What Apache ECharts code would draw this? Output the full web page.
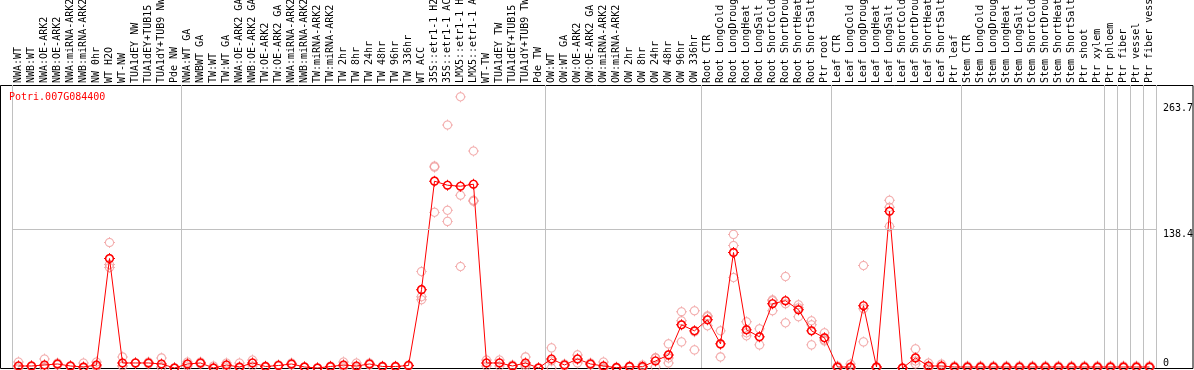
<!DOCTYPE html>
<html><head><meta charset="utf-8">
<script src="https://cdn.jsdelivr.net/npm/echarts@6/dist/echarts.min.js"></script>
<style>html,body{margin:0;padding:0;background:#fff}#c{width:1194px;height:370px}</style>
</head><body><div id="c"></div>
<script>
const geneName = 'Potri.007G084400';
const categories = [
 'NWA:WT','NWB:WT','NWA:OE-ARK2','NWB:OE-ARK2','NWA:miRNA-ARK2','NWB:miRNA-ARK2','NW 0hr','WT H2O','WT-NW','TUA1dEY NW','TUA1dEY+TUB15 NW','TUA1dY+TUB9 NW','Pde NW',
 'NWA:WT GA','NWBWT GA','TW:WT','TW:WT GA','NWA:OE-ARK2 GA','NWB:OE-ARK2 GA','TW:OE-ARK2','TW:OE-ARK2 GA','NWA:miRNA-ARK2','NWB:miRNA-ARK2','TW:miRNA-ARK2','TW:miRNA-ARK2','TW 2hr','TW 8hr','TW 24hr','TW 48hr','TW 96hr','TW 336hr','WT ACC','35S::etr1-1 H2O','35S::etr1-1 ACC','LMX5::etr1-1 H2O','LMX5::etr1-1 ACC','WT-TW','TUA1dEY TW','TUA1dEY+TUB15 TW','TUA1dY+TUB9 TW','Pde TW',
 'OW:WT','OW:WT GA','OW:OE-ARK2','OW:OE-ARK2 GA','OW:miRNA-ARK2','OW:miRNA-ARK2','OW 2hr','OW 8hr','OW 24hr','OW 48hr','OW 96hr','OW 336hr',
 'Root CTR','Root LongCold','Root LongDrought','Root LongHeat','Root LongSalt','Root ShortCold','Root ShortDrought','Root ShortHeat','Root ShortSalt','Ptr root',
 'Leaf CTR','Leaf LongCold','Leaf LongDrought','Leaf LongHeat','Leaf LongSalt','Leaf ShortCold','Leaf ShortDrought','Leaf ShortHeat','Leaf ShortSalt','Ptr leaf',
 'Stem CTR','Stem LongCold','Stem LongDrought','Stem LongHeat','Stem LongSalt','Stem ShortCold','Stem ShortDrought','Stem ShortHeat','Stem ShortSalt','Ptr shoot','Ptr xylem',
 'Ptr phloem','Ptr fiber','Ptr vessel','Ptr fiber vessel'
];
const meanValues = [
 2,2,3,4,2,1,3,109,5,5,5,4,0,
 4,5,0,3,1,5,1.5,2.5,4,1,0,1.5,3,2,4,1.5,1.5,2.5,78,186,182,181,183,5,5,2,5,0,
 9,3,9,4,2,0.3,1.3,1.3,7,13,43,37,
 48,24,115,38,31,64,67,58,37,30,
 1,1,62,1,156,0,10,2,2,1,
 1,1,1,1,1,1,1,1,1,1,1,
 1,1,1,1
];
const rep1 = [
 6,2,9,5,2,5,6,125,11,5,5,10,0,
 6,6,2,5,5,8,2,3,5,1,0,2,6,5,5,2,2,3,96,201,242,270,216,8,8,3,11,0,
 20,4,13,5,6,1,2,3,10,24,56,57,
 52,37,133,46,39,68,91,63,47,35,
 2,4,102,1,167,0,19,5,4,2,
 2,2,2,2,2,2,2,2,2,2,2,
 2,2,2,2
];
const rep2 = [
 2,2,0,4,2,0,2,103,2,5,6,1,0,
 4,5,0,3,0,5,1,3,4,1,0,1,2,1,4,1,1,2,71,200,157,172,167,5,5,2,3,0,
 7,3,9,4,0,0,1,1,10,10,47,36,
 51,24,122,35,31,67,64,60,43,28,
 1,0,59,1,160,0,7,1,1,1,
 1,1,1,1,1,1,1,1,1,1,1,
 1,1,1,1
];
const rep3 = [
 0,1,1,3,1,0,1,100,2,5,4,1,0,
 2,4,0,1,0,2,1,2,3,1,0,1,1,0,3,1,1,2,68,155,146,101,166,2,2,1,1,0,
 0,2,5,3,0,0,1,0,1,5,26,18,
 42,11,90,32,23,57,45,51,23,27,
 0,0,26,0,141,0,4,0,1,0,
 0,0,0,0,0,0,0,0,0,0,0,
 0,0,0,0
];
const yTickLabels = [0, 138.4, 263.7];
const gridLineValue = 138.4;
const groupStarts = [0, 13, 41, 53, 63, 73, 84, 85, 86, 87];

const MONO = 'DejaVu Sans Mono';
function circ(R, cw) {
  const c = 12, k = 0.5523 * R;
  const f = (n) => n.toFixed(3);
  if (cw) {
    return 'M' + f(c) + ' ' + f(c - R) +
      'C' + f(c + k) + ' ' + f(c - R) + ' ' + f(c + R) + ' ' + f(c - k) + ' ' + f(c + R) + ' ' + f(c) +
      'C' + f(c + R) + ' ' + f(c + k) + ' ' + f(c + k) + ' ' + f(c + R) + ' ' + f(c) + ' ' + f(c + R) +
      'C' + f(c - k) + ' ' + f(c + R) + ' ' + f(c - R) + ' ' + f(c + k) + ' ' + f(c - R) + ' ' + f(c) +
      'C' + f(c - R) + ' ' + f(c - k) + ' ' + f(c - k) + ' ' + f(c - R) + ' ' + f(c) + ' ' + f(c - R) + 'Z';
  }
  return 'M' + f(c) + ' ' + f(c - R) +
    'C' + f(c - k) + ' ' + f(c - R) + ' ' + f(c - R) + ' ' + f(c - k) + ' ' + f(c - R) + ' ' + f(c) +
    'C' + f(c - R) + ' ' + f(c + k) + ' ' + f(c - k) + ' ' + f(c + R) + ' ' + f(c) + ' ' + f(c + R) +
    'C' + f(c + k) + ' ' + f(c + R) + ' ' + f(c + R) + ' ' + f(c + k) + ' ' + f(c + R) + ' ' + f(c) +
    'C' + f(c + R) + ' ' + f(c - k) + ' ' + f(c + k) + ' ' + f(c - R) + ' ' + f(c) + ' ' + f(c - R) + 'Z';
}
function markerPath(th) {
  return 'path://' + circ(10, true) + ' ' + circ(10 - th, false) +
    ' M11 0H13V3H11Z M11 21H13V24H11Z M0 11H3V13H0Z M21 11H24V13H21Z';
}
const isBoundary = (i) => groupStarts.indexOf(i) >= 0;
const repSeries = [rep1, rep2, rep3].map((arr) => ({
  type: 'scatter', xAxisIndex: 0, yAxisIndex: 0,
  data: arr.map(v => v == null ? '-' : v),
  symbol: markerPath(2.2), symbolSize: 11,
  itemStyle: { color: '#f09a9a' }, z: 2, silent: true, clip: false
}));

const chart = echarts.init(document.getElementById('c'), null, { renderer: 'canvas' });
chart.setOption({
  animation: false,
  backgroundColor: '#fff',
  title: {
    text: geneName, left: 4, top: 87,
    textStyle: { color: '#ff0000', fontSize: 10, fontFamily: MONO, fontWeight: 'normal' }
  },
  grid: [
    { left: 12, top: 85, width: 1144, bottom: 2, containLabel: false, outerBoundsMode: 'none' },
    { left: 0.5, top: 85.5, width: 1192.5, height: 283, show: true, borderColor: '#000', borderWidth: 1, backgroundColor: 'transparent', containLabel: false, outerBoundsMode: 'none' }
  ],
  xAxis: [
    {
      type: 'category', data: categories, position: 'top', boundaryGap: true, gridIndex: 0,
      axisLine: { show: true, lineStyle: { color: '#000', width: 1 } },
      axisTick: { show: true, interval: isBoundary, length: 85, inside: false, lineStyle: { color: '#c0c0c0', width: 1 } },
      axisLabel: { show: true, interval: 0, rotate: 90, margin: 2, fontSize: 10, fontFamily: MONO, color: '#000' },
      splitLine: { show: true, interval: isBoundary, lineStyle: { color: '#c0c0c0', width: 1 } }
    },
    { type: 'value', gridIndex: 1, show: false, min: 0, max: 1 }
  ],
  yAxis: [
    {
      type: 'value', position: 'right', gridIndex: 0, min: 0, max: 281.8,
      axisLine: { show: false }, axisTick: { show: false }, splitLine: { show: false },
      axisLabel: {
        show: true, customValues: yTickLabels, margin: 7, fontSize: 10, fontFamily: MONO, color: '#000',
        verticalAlign: 'top', verticalAlignMinLabel: 'bottom', verticalAlignMaxLabel: 'top'
      }
    },
    { type: 'value', gridIndex: 1, show: false, min: 0, max: 1 }
  ],
  series: repSeries.concat([{
    type: 'line', xAxisIndex: 0, yAxisIndex: 0, data: meanValues,
    symbol: markerPath(3.2), symbolSize: 11, showAllSymbol: true,
    itemStyle: { color: '#ff0000' }, lineStyle: { color: '#ff0000', width: 1 },
    z: 3, silent: true, clip: false,
    markLine: {
      silent: true, symbol: ['none', 'none'], label: { show: false }, animation: false,
      lineStyle: { color: '#c0c0c0', type: 'solid', width: 1 },
      data: [{ yAxis: gridLineValue }]
    }
  }])
});
</script></body></html>
